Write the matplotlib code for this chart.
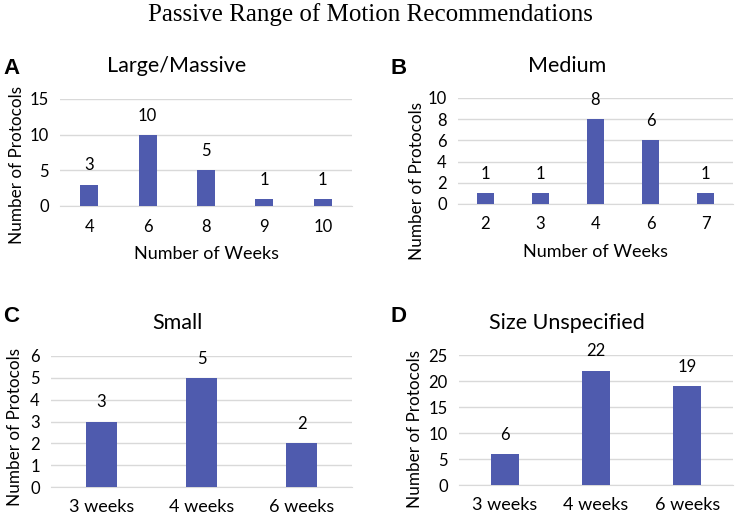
import matplotlib
matplotlib.use("Agg")
import matplotlib.pyplot as plt

W, H = 735, 517
title = "Passive Range of Motion Recommendations"

a_cats = ["4", "6", "8", "9", "10"]
a_vals = [3, 10, 5, 1, 1]
b_cats = ["2", "3", "4", "6", "7"]
b_vals = [1, 1, 8, 6, 1]
c_cats = ["3 weeks", "4 weeks", "6 weeks"]
c_vals = [3, 5, 2]
d_cats = ["3 weeks", "4 weeks", "6 weeks"]
d_vals = [6, 22, 19]

BAR = "#4F5BAE"
GRID = "#D9D9D9"
FONT = "Lato"

fig = plt.figure(figsize=(W / 100, H / 100), dpi=100)
fig.text(370 / W, 1 - 15 / H, title, ha="center", va="center",
         family="Liberation Serif", fontsize=18)


def px_axes(l, t, r, b):
    return fig.add_axes([l / W, 1 - b / H, (r - l) / W, (b - t) / H])


def panel(box, cats, vals, ymax, ystep, name, letter, letter_xy, title_xy,
          ylabel_xy, xlabel=None, xtick_size=12, label_pad=8):
    ax = px_axes(*box)
    x = list(range(len(cats)))
    ax.bar(x, vals, width=0.31, color=BAR, zorder=3)
    ax.set_xlim(-0.5, len(cats) - 0.5)
    ax.set_ylim(0, ymax)
    ax.set_yticks(list(range(0, ymax + 1, ystep)))
    ax.set_xticks(x)
    ax.set_xticklabels(cats, family=FONT, fontsize=xtick_size)
    for lab in ax.get_yticklabels():
        lab.set_family(FONT)
        lab.set_fontsize(12)
    ax.tick_params(length=0, pad=8)
    ax.tick_params(axis="x", pad=9)
    ax.grid(axis="y", color=GRID, linewidth=1, zorder=0)
    for s in ["top", "right", "left"]:
        ax.spines[s].set_visible(False)
    ax.spines["bottom"].set_color(GRID)
    for xi, v in zip(x, vals):
        ax.annotate(str(v), (xi, v), xytext=(0, 8), textcoords="offset points",
                    ha="center", va="bottom", family=FONT, fontsize=12)
    fig.text(title_xy[0] / W, 1 - title_xy[1] / H, name, ha="center", va="center",
             family=FONT, fontsize=15.5)
    fig.text(letter_xy[0] / W, 1 - letter_xy[1] / H, letter, ha="left", va="center",
             family="Liberation Sans", fontweight="bold", fontsize=16)
    fig.text(ylabel_xy[0] / W, 1 - ylabel_xy[1] / H, "Number of Protocols",
             rotation=90, ha="center", va="center", family=FONT, fontsize=12.3)
    if xlabel:
        ax.set_xlabel(xlabel, family=FONT, fontsize=13, labelpad=label_pad)
    return ax


panel((60, 99, 352, 206), a_cats, a_vals, 15, 5, "Large/Massive", "A", (3, 68), (177, 66),
      (17, 165), xlabel="Number of Weeks")
panel((458, 98, 733, 204), b_cats, b_vals, 10, 2, "Medium", "B", (391, 68), (567, 66),
      (417, 181), xlabel="Number of Weeks")
panel((51, 356, 352, 487), c_cats, c_vals, 6, 1, "Small", "C", (3, 317), (177, 323),
      (15, 427), xtick_size=13)
panel((459, 355, 733, 485), d_cats, d_vals, 25, 5, "Size Unspecified", "D", (391, 317), (567, 323),
      (415, 429), xtick_size=13)

fig.savefig("out.png", dpi=100)
